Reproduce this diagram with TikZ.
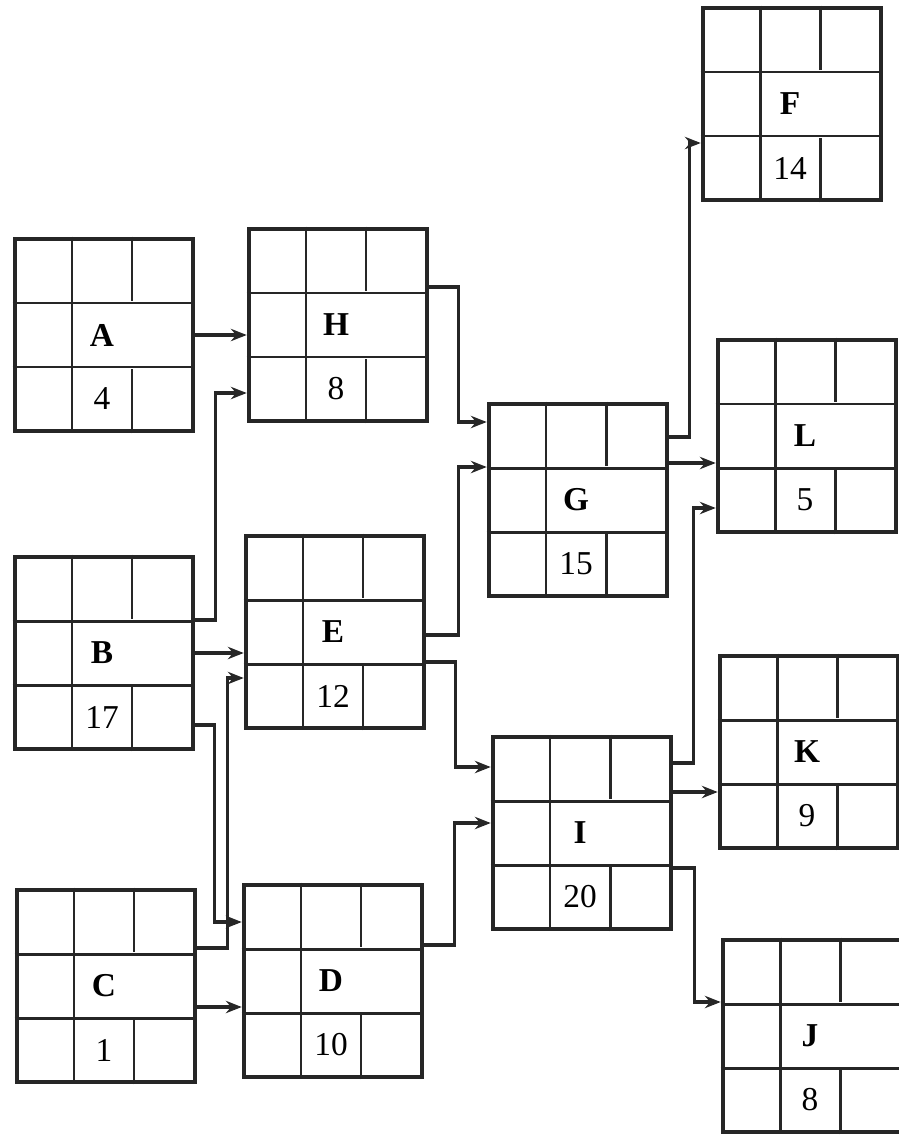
\documentclass[tikz,border=0pt]{standalone}
\usepackage{fontspec}
\setmainfont{Liberation Serif}
\usetikzlibrary{arrows.meta,calc}

\begin{document}
\begin{tikzpicture}[x=0.02cm,y=-0.02cm,
  actbox/.style={draw=black!85,line width=2.6pt,minimum width=3.56cm,minimum height=3.84cm,inner sep=0pt},
  celline/.style={draw=black!85,line width=1.7pt},
  link/.style={draw=black!85,line width=1.8pt,-{Stealth[length=9pt,width=7pt]}},
  lbl/.style={font=\fontsize{19}{22}\selectfont\bfseries,inner sep=0pt},
  dur/.style={font=\fontsize{19}{22}\selectfont,inner sep=0pt}]
  \useasboundingbox (0,0) rectangle (899,1136); \clip (0,0) rectangle (899,1136);
  % activity boxes: name / centre / duration
  \foreach \n/\x/\y/\d in {A/104/335/4, H/338/325/8, B/104/653/17, E/335/632/12, C/106/986/1, D/333/981/10,
      G/578/500/15, I/582/833/20, F/792/104/14, L/807/436/5, K/809/752/9, J/812/1036/8} {
    \node[actbox] (\n) at (\x,\y) {};
    \draw[celline] ($(\n.west)+(0,-32)$) -- ($(\n.east)+(0,-32)$);
    \draw[celline] ($(\n.west)+(0,32)$) -- ($(\n.east)+(0,32)$);
    \draw[celline] ($(\n.north)+(-32,0)$) -- ($(\n.south)+(-32,0)$);
    \draw[celline] ($(\n.north)+(28,0)$) -- ++(0,64);
    \draw[celline] ($(\n.south)+(28,0)$) -- ++(0,-64);
    \node[lbl] (\n-l) at ($(\n)+(-2,0)$) {\n};
    \node[dur] (\n-d) at ($(\n)+(-2,64)$) {\d};
  }
  % links
  \draw[link] (A.east) -- (H.west |- A.east);
  \draw[link] (B.east |- 0,620) -- ++(20,0) |- (H.west |- 0,393);
  \draw[link] (B.east) -- (E.west |- B.east);
  \draw[link] (B.east |- 0,725) -- ++(19,0) |- (D.west |- 0,922);
  \draw[link] (C.east |- 0,948) -- ++(30,0) |- (E.west |- 0,678);
  \draw[link] (C.east |- 0,1007) -- (D.west |- 0,1007);
  \draw[link] (H.east |- 0,287) -- ++(29,0) |- (G.west |- 0,422);
  \draw[link] (E.east |- 0,635) -- ++(32,0) |- (G.west |- 0,467);
  \draw[link] (E.east |- 0,662) -- ++(29,0) |- (I.west |- 0,767);
  \draw[link] (D.east |- 0,945) -- ++(30,0) |- (I.west |- 0,823);
  \draw[link] (G.east |- 0,437) -- ++(20,0) |- (F.west |- 0,143);
  \draw[link] (G.east |- 0,463) -- (L.west |- 0,463);
  \draw[link] (I.east |- 0,763) -- ++(20,0) |- (L.west |- 0,508);
  \draw[link] (I.east |- 0,792) -- (K.west |- 0,792);
  \draw[link] (I.east |- 0,868) -- ++(21,0) |- (J.west |- 0,1002);
\end{tikzpicture}
\end{document}
